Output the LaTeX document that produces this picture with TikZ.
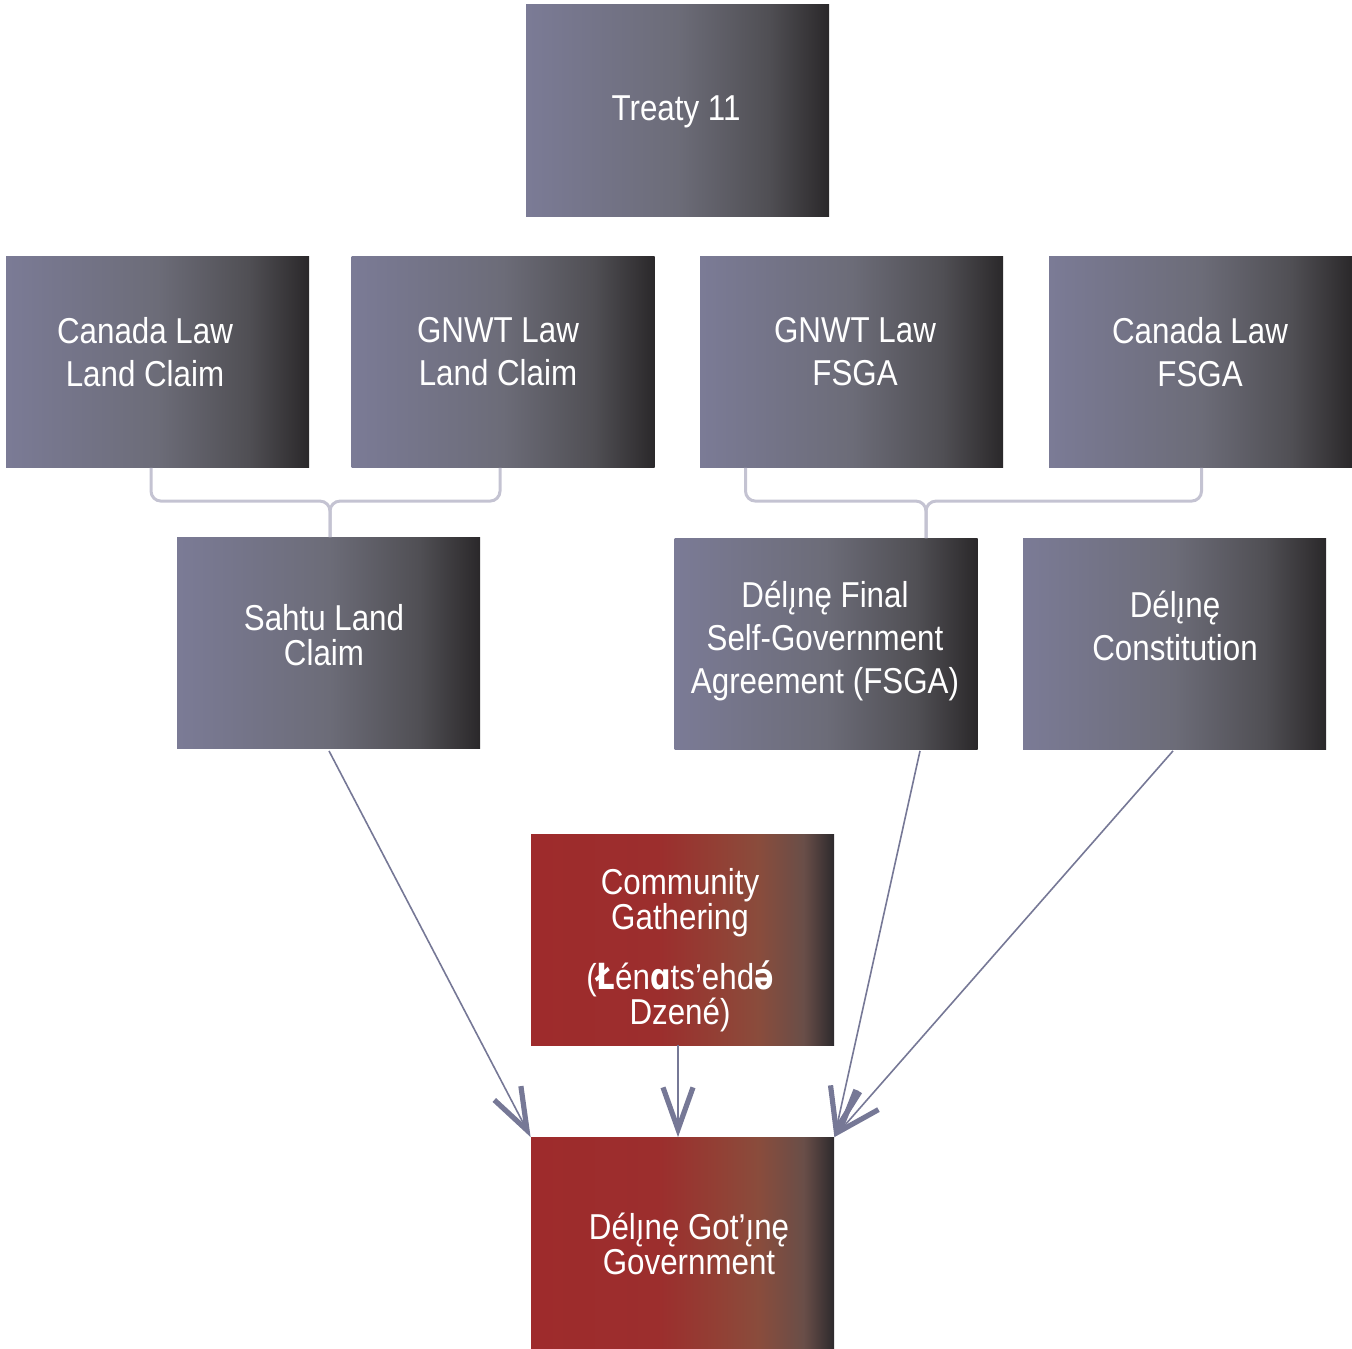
\documentclass[tikz,border=0pt]{standalone}
\usepackage{fontspec}
\setmainfont{Liberation Sans}[FakeStretch=0.87]
\newfontfamily\djv{DejaVu Sans}[FakeStretch=0.8]
\usetikzlibrary{arrows.meta,calc}
\definecolor{gA}{RGB}{123,123,150}
\definecolor{gB}{RGB}{108,108,120}
\definecolor{gC}{RGB}{80,79,84}
\definecolor{gD}{RGB}{56,54,57}
\definecolor{gE}{RGB}{42,40,42}
\definecolor{rA}{RGB}{158,43,44}
\definecolor{rB}{RGB}{156,46,45}
\definecolor{rC}{RGB}{146,64,53}
\definecolor{rD}{RGB}{138,76,60}
\definecolor{rE}{RGB}{105,78,72}
\definecolor{rF}{RGB}{45,42,45}
\definecolor{arrowc}{RGB}{118,120,150}
\definecolor{brkc}{RGB}{196,195,210}
\pgfdeclarehorizontalshading{grayshade}{100bp}{color(0bp)=(gA); color(25bp)=(gA); color(50bp)=(gB); color(65bp)=(gC); color(71.5bp)=(gD); color(75bp)=(gE); color(100bp)=(gE)}
\pgfdeclarehorizontalshading{redshade}{100bp}{color(0bp)=(rA); color(25bp)=(rA); color(46bp)=(rB); color(56bp)=(rC); color(62.5bp)=(rD); color(70bp)=(rE); color(75bp)=(rF); color(100bp)=(rF)}
\newcommand{\dl}{Dél\i\char"0328 nę}
\tikzset{
  gbox/.style={rectangle, minimum width=151.5pt, minimum height=105.5pt, inner sep=0pt, shading=grayshade},
  rbox/.style={rectangle, minimum width=151.5pt, minimum height=105.5pt, inner sep=0pt, shading=redshade},
  txt/.style={text=white, align=center, inner sep=0pt, font=\fontsize{18}{21.5}\selectfont},
  txtt/.style={text=white, align=center, inner sep=0pt, font=\fontsize{18}{17.5}\selectfont},
  brk/.style={draw=brkc, line width=1.5pt, rounded corners=5pt},
  arr/.style={draw=arrowc, line width=0.8pt, -{Straight Barb[length=21pt,width=15pt,line width=2.6pt]}}
}
\begin{document}
\begin{tikzpicture}[x=0.5pt,y=-0.5pt]
\useasboundingbox (0,0) rectangle (1352,1348);
% boxes
\node[gbox] (treaty) at (677.5,110.5) {};
\node[gbox] (cll) at (157.5,362) {};
\node[gbox] (glc) at (503,362) {};
\node[gbox] (gfs) at (851.5,362) {};
\node[gbox] (cfs) at (1200.5,362) {};
\node[gbox] (sahtu) at (328.5,643) {};
\node[gbox] (fsga) at (826,644) {};
\node[gbox] (cons) at (1174.5,644) {};
\node[rbox] (comm) at (682.5,939.5) {};
\node[rbox] (gov) at (682.5,1243) {};
% texts
\node[txt] (ttreaty) at (676,112) {Treaty 11};
\node[txt] (tcll) at (145,352) {Canada Law\\Land Claim};
\node[txt] (tglc) at (498,352) {GNWT Law\\Land Claim};
\node[txt] (tgfs) at (855,352) {GNWT Law\\FSGA};
\node[txt] (tcfs) at (1200,352) {Canada Law\\FSGA};
\node[txtt] (tsahtu) at (324,635.5) {Sahtu Land\\Claim};
\node[txt] (tfsga) at (825,641) {\dl{} Final\\Self-Government\\Agreement (FSGA)};
\node[txt] (tcons) at (1175,625.5) {\dl\\Constitution};
\node[txtt] (tcomm) at (680,950) {Community\\Gathering\\[11pt](\textbf{\djv Ł}én\textbf{\djv ɑ}ts’ehd\textbf{\djv ə́}\\Dzené)};
\node[txtt] (tgov) at (689,1244) {\dl{} Got’\i\char"0328 nę\\Government};
% brackets
\draw[brk] ($(cll.south)+(-6.5,0)$) |- ($(sahtu.north)+(1.5,-36)$) -- ($(sahtu.north)+(1.5,0)$);
\draw[brk] ($(glc.south)+(-3,0)$) |- ($(sahtu.north)+(1.5,-36)$) -- ($(sahtu.north)+(1.5,0)$);
\draw[brk] ($(gfs.south)+(-106,0)$) |- ($(fsga.north)+(100,-37)$) -- ($(fsga.north)+(100,0)$);
\draw[brk] ($(cfs.south)+(1,0)$) |- ($(fsga.north)+(100,-37)$) -- ($(fsga.north)+(100,0)$);
% arrows
\draw[arr] ($(sahtu.south)+(0.5,2)$) -- (gov.north west);
\draw[arr] ($(comm.south)+(-4.5,0)$) -- ($(gov.north)+(-4.5,0)$);
\draw[arr] ($(fsga.south)+(94,1)$) -- (gov.north east);
\draw[arr] ($(cons.south)+(-1.5,1)$) -- (gov.north east);
\end{tikzpicture}
\end{document}
